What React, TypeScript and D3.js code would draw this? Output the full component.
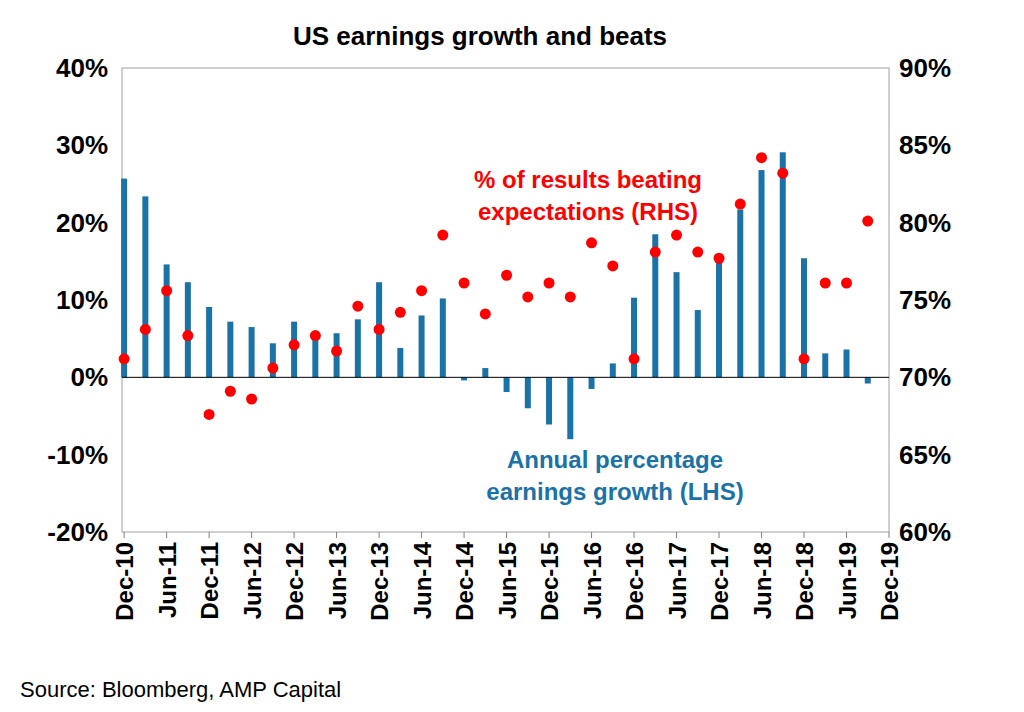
import * as d3 from 'd3';

const tickLabels = ['Dec-10','Jun-11','Dec-11','Jun-12','Dec-12','Jun-13','Dec-13','Jun-14','Dec-14','Jun-15','Dec-15','Jun-16','Dec-16','Jun-17','Dec-17','Jun-18','Dec-18','Jun-19','Dec-19'];
const earningsGrowth = [25.7,23.4,14.6,12.3,9.1,7.2,6.5,4.4,7.2,5.5,5.7,7.5,12.3,3.8,8.0,10.2,-0.4,1.2,-1.9,-4.0,-6.1,-8.0,-1.5,1.8,10.3,18.5,13.6,8.7,14.9,21.7,26.8,29.1,15.4,3.1,3.6,-0.8];
const beatPct = [71.2,73.1,75.6,72.7,67.6,69.1,68.6,70.6,72.1,72.7,71.7,74.6,73.1,74.2,75.6,79.2,76.1,74.1,76.6,75.2,76.1,75.2,78.7,77.2,71.2,78.1,79.2,78.1,77.7,81.2,84.2,83.2,71.2,76.1,76.1,80.1];
const leftTicks = [-20,-10,0,10,20,30,40];
const rightTicks = [60,65,70,75,80,85,90];

const W = 1024, H = 712;
const L = 122, R = 889, T = 68, B = 532;

export default function App() {
  const x = d3.scaleLinear().domain([-0.1, 36]).range([L, R]);
  const yL = d3.scaleLinear().domain([-20, 40]).range([B, T]);
  const yR = d3.scaleLinear().domain([60, 90]).range([B, T]);
  const blue = '#1b72a6';
  const red = '#ff0000';
  const font = 'Arial, "Liberation Sans", sans-serif';
  return (
    <svg width={W} height={H} style={{ position: 'absolute', left: 0, top: 0, background: '#fff' }} fontFamily={font}>
      <text x={480} y={45} textAnchor="middle" fontSize={26} fontWeight="bold">US earnings growth and beats</text>
      <rect x={L} y={T} width={R - L} height={B - T} fill="none" stroke="#a0a0a0" strokeWidth={1} />
      {leftTicks.map(t => (
        <text key={'l' + t} x={L - 14} y={yL(t) + 9} textAnchor="end" fontSize={26} fontWeight="bold">{t}%</text>
      ))}
      {rightTicks.map(t => (
        <text key={'r' + t} x={R + 10} y={yR(t) + 9} textAnchor="start" fontSize={26} fontWeight="bold">{t}%</text>
      ))}
      {earningsGrowth.map((v, i) => (
        <rect key={'b' + i} x={x(i) - 3} y={Math.min(yL(v), yL(0))} width={6}
          height={Math.abs(yL(v) - yL(0))} fill={blue} />
      ))}
      <line x1={L} x2={R} y1={yL(0)} y2={yL(0)} stroke="#000" strokeWidth={1} />
      {tickLabels.map((t, i) => (
        <g key={'x' + t}>
          <line x1={x(i * 2)} x2={x(i * 2)} y1={B} y2={B + 6} stroke="#808080" />
          <text transform={`translate(${x(i * 2) + 9},${B + 10}) rotate(-90)`} textAnchor="end"
            fontSize={24} fontWeight="bold">{t}</text>
        </g>
      ))}
      {beatPct.map((v, i) => (
        <circle key={'d' + i} cx={x(i)} cy={yR(v)} r={5.5} fill={red} />
      ))}
      <text x={588} y={188} textAnchor="middle" fontSize={24} fontWeight="bold" fill={red}>% of results beating</text>
      <text x={588} y={220} textAnchor="middle" fontSize={24} fontWeight="bold" fill={red}>expectations (RHS)</text>
      <text x={615} y={468} textAnchor="middle" fontSize={24} fontWeight="bold" fill={blue}>Annual percentage</text>
      <text x={615} y={500} textAnchor="middle" fontSize={24} fontWeight="bold" fill={blue}>earnings growth (LHS)</text>
      <text x={20} y={697} fontSize={22}>Source: Bloomberg, AMP Capital</text>
    </svg>
  );
}
